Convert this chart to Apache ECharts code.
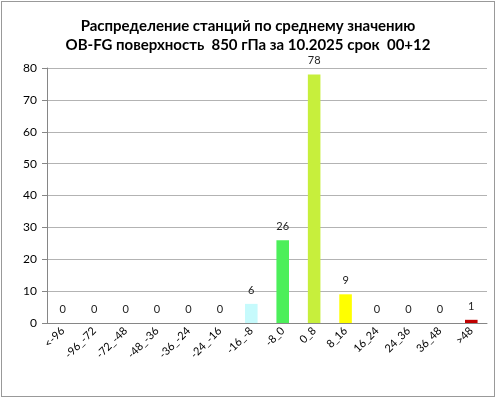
<!DOCTYPE html>
<html lang="ru">
<head>
<meta charset="UTF-8">
<title>OB-FG</title>
<style>
    * { margin: 0; }
    html, body { width: 100%; height: 100%; background: #fff; }
    #chart { position: absolute; left: 1px; top: 1px; width: 492px; height: 394px; border: 1px solid #999; }
</style>
</head>
<body>
<div id="chart"></div>
<script src="https://cdn.jsdelivr.net/npm/echarts@6/dist/echarts.min.js"></script>
<script>
    var categories = ['<-96', '-96_-72', '-72_-48', '-48_-36', '-36_-24', '-24_-16', '-16_-8', '-8_0', '0_8', '8_16', '16_24', '24_36', '36_48', '>48'];
    var values = [0, 0, 0, 0, 0, 0, 6, 26, 78, 9, 0, 0, 0, 1];
    var barColors = ['#4f81bd', '#4f81bd', '#4f81bd', '#4f81bd', '#4f81bd', '#4f81bd', '#c6fafc', '#4cef5a', '#c7ef3c', '#ffff00', '#4f81bd', '#4f81bd', '#4f81bd', '#c00000'];
    var titleLines = ['Распределение станций по среднему значению', 'OB-FG поверхность  850 гПа за 10.2025 срок  00+12'];

    var font = 'Lato, "Open Sans", sans-serif';
    var chart = echarts.init(document.getElementById('chart'));

    var data = [];
    for (var i = 0; i < values.length; i++) {
        data.push({ value: values[i], itemStyle: { color: barColors[i] } });
    }

    var option = {
        animation: false,
        title: {
            text: titleLines.join('\n'),
            left: 'center',
            top: 10,
            textStyle: { fontFamily: font, fontSize: 15, fontWeight: 'bold', color: '#000', lineHeight: 19 }
        },
        grid: { left: 45, right: 7, top: 66, bottom: 73 },
        xAxis: {
            type: 'category',
            data: categories,
            axisLine: { lineStyle: { color: '#868686' } },
            axisTick: { alignWithLabel: false, length: 5, lineStyle: { color: '#868686' } },
            axisLabel: { rotate: 45, interval: 0, fontFamily: font, fontSize: 11, color: '#000', margin: 6 }
        },
        yAxis: {
            type: 'value',
            min: 0,
            max: 80,
            interval: 10,
            axisLine: { show: true, lineStyle: { color: '#868686' } },
            axisTick: { show: true, length: 5, lineStyle: { color: '#868686' } },
            axisLabel: { fontFamily: font, fontSize: 12, color: '#000', margin: 10 },
            splitLine: { lineStyle: { color: '#b3b3b3' } }
        },
        series: [{
            type: 'bar',
            data: data,
            barWidth: '40%',
            label: {
                show: true,
                position: 'top',
                distance: 8,
                fontFamily: font,
                fontSize: 11,
                color: '#222'
            }
        }]
    };
    chart.setOption(option);
</script>
</body>
</html>
